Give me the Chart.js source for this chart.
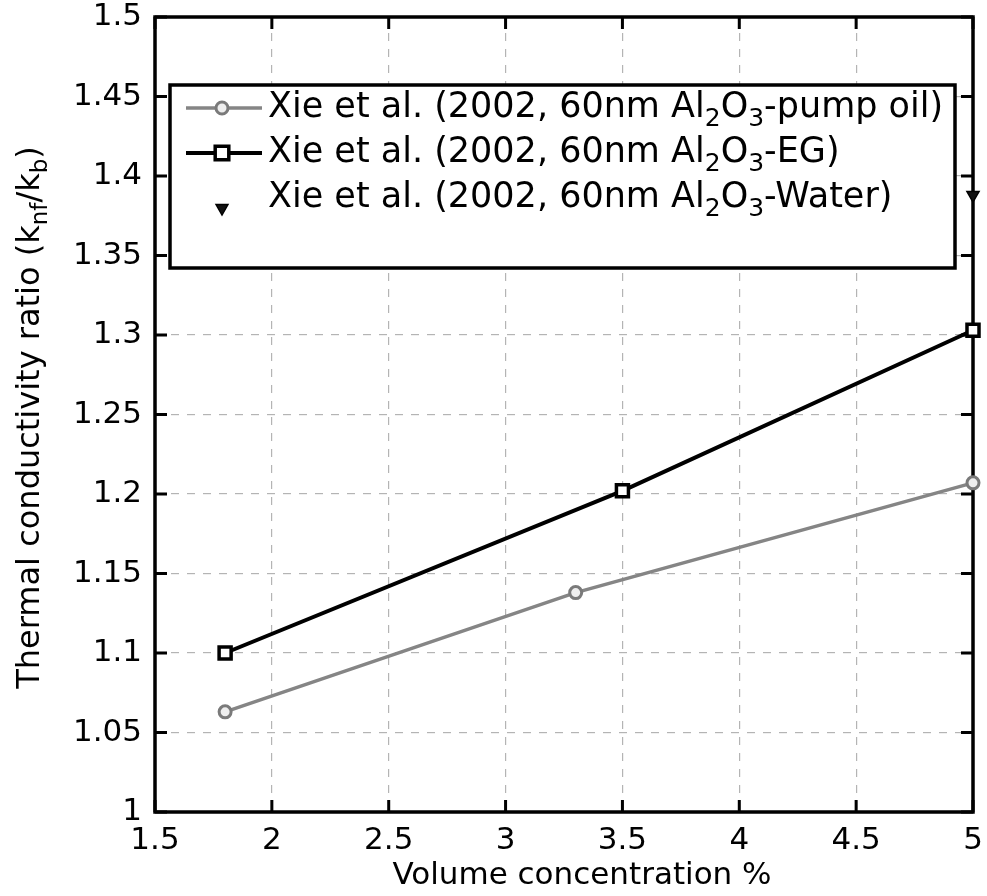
<!DOCTYPE html>
<html>
<head>
<meta charset="utf-8">
<title>Thermal conductivity ratio</title>
<script src="https://cdn.jsdelivr.net/npm/chart.js@4.4.0/dist/chart.umd.min.js"></script>
<style>
  html, body { margin: 0; padding: 0; background: #fff; }
  #wrap { width: 987px; height: 896px; }
</style>
</head>
<body>
<div id="wrap"><canvas id="ratioChart"></canvas></div>
<script>
// volume concentration (%) and k_nf/k_b for each fluid
const pumpOilX = [1.8, 3.3, 5.0];
const pumpOilY = [1.063, 1.138, 1.207];
const egX = [1.8, 3.5, 5.0];
const egY = [1.100, 1.202, 1.303];
const waterX = [5.0];
const waterY = [1.388];

const seriesLabels = [
  'Xie et al. (2002, 60nm Al_{2}O_{3}-pump oil)',
  'Xie et al. (2002, 60nm Al_{2}O_{3}-EG)',
  'Xie et al. (2002, 60nm Al_{2}O_{3}-Water)',
];
const xTitle = 'Volume concentration %';
const yTitle = 'Thermal conductivity ratio (k_{nf}/k_{b})';

const FONT = '"DejaVu Sans", Verdana, sans-serif';

const toPoints = (xs, ys) => xs.map((x, i) => ({ x, y: ys[i] }));

// draws text with _{...} parts as subscripts, returns width
function richText(ctx, text, x, y, size, measureOnly) {
  const parts = text.split(/(_\{[^}]*\})/).filter(Boolean);
  let cx = x;
  for (const p of parts) {
    const sub = p.startsWith('_{');
    const s = sub ? p.slice(2, -1) : p;
    ctx.font = (sub ? Math.round(size * 0.72) : size) + 'px ' + FONT;
    if (!measureOnly) ctx.fillText(s, cx, sub ? y + size * 0.32 : y);
    cx += ctx.measureText(s).width;
  }
  return cx - x;
}

function drawMarker(ctx, ds, x, y) {
  const r = ds.pointRadius;
  ctx.save();
  ctx.lineWidth = ds.pointBorderWidth;
  ctx.strokeStyle = ds.pointBorderColor;
  ctx.fillStyle = ds.pointBackgroundColor;
  ctx.beginPath();
  if (ds.pointStyle === 'circle') {
    ctx.arc(x, y, r, 0, Math.PI * 2);
  } else if (ds.pointStyle === 'rect') {
    const h = r * 0.8;
    ctx.rect(x - h, y - h, 2 * h, 2 * h);
  } else {
    ctx.moveTo(x - r * 0.85, y - r * 0.5);
    ctx.lineTo(x + r * 0.85, y - r * 0.5);
    ctx.lineTo(x, y + r);
    ctx.closePath();
  }
  ctx.fill();
  ctx.stroke();
  ctx.restore();
}

const framePlugin = {
  id: 'frame',
  beforeDatasetsDraw(chart) {
    const { ctx, chartArea: a, scales } = chart;
    ctx.save();
    ctx.strokeStyle = '#000';
    ctx.lineWidth = 3.5;
    ctx.strokeRect(a.left, a.top, a.right - a.left, a.bottom - a.top);
    // inward ticks on all four sides
    const len = 12;
    ctx.beginPath();
    scales.y.ticks.forEach(t => {
      const py = scales.y.getPixelForValue(t.value);
      ctx.moveTo(a.left, py); ctx.lineTo(a.left + len, py);
      ctx.moveTo(a.right, py); ctx.lineTo(a.right - len, py);
    });
    scales.x.ticks.forEach(t => {
      const px = scales.x.getPixelForValue(t.value);
      ctx.moveTo(px, a.bottom); ctx.lineTo(px, a.bottom - len);
      ctx.moveTo(px, a.top); ctx.lineTo(px, a.top + len);
    });
    ctx.lineWidth = 3;
    ctx.stroke();
    ctx.restore();
  },
  afterDatasetsDraw(chart) {
    const { ctx, chartArea: a } = chart;
    ctx.save();
    ctx.fillStyle = '#000';
    ctx.textBaseline = 'middle';
    ctx.textAlign = 'left';

    // x title
    const wx = richText(ctx, xTitle, 0, 0, 31, true);
    richText(ctx, xTitle, 582 - wx / 2, 876, 31);

    // y title, rotated
    ctx.save();
    ctx.translate(31, (a.top + a.bottom) / 2 + 3);
    ctx.rotate(-Math.PI / 2);
    const wy = richText(ctx, yTitle, 0, 0, 32, true);
    richText(ctx, yTitle, -wy / 2, 0, 32);
    ctx.restore();

    // legend box
    const bx = 170, by = 85, bw = 785, bh = 183;
    ctx.fillStyle = '#fff';
    ctx.fillRect(bx, by, bw, bh);
    ctx.lineWidth = 3.5;
    ctx.strokeStyle = '#000';
    ctx.strokeRect(bx, by, bw, bh);
    chart.data.datasets.forEach((ds, i) => {
      const ry = by + 23 + i * 45;
      if (ds.showLine !== false) {
        ctx.beginPath();
        ctx.lineWidth = ds.borderWidth;
        ctx.strokeStyle = ds.borderColor;
        ctx.moveTo(bx + 16, ry);
        ctx.lineTo(bx + 92, ry);
        ctx.stroke();
      }
      drawMarker(ctx, ds, bx + 52, ry + (ds.pointStyle === 'triangle' ? 10 : 0));
      ctx.fillStyle = '#000';
      richText(ctx, ds.label, bx + 98, ry, 35);
    });
    ctx.restore();
  },
};

const gridColor = (edgeMin, edgeMax) => c =>
  (c.tick && (Math.abs(c.tick.value - edgeMin) < 1e-6 || Math.abs(c.tick.value - edgeMax) < 1e-6))
    ? 'rgba(0,0,0,0)' : '#b4b4b4';

new Chart(document.getElementById('ratioChart'), {
  type: 'scatter',
  data: {
    datasets: [
      {
        label: seriesLabels[0],
        data: toPoints(pumpOilX, pumpOilY),
        showLine: true,
        borderColor: '#858585',
        borderWidth: 3.5,
        pointStyle: 'circle',
        pointRadius: 6,
        pointBorderWidth: 3,
        pointBorderColor: '#7a7a7a',
        pointBackgroundColor: '#eeeeee',
        clip: false,
      },
      {
        label: seriesLabels[1],
        data: toPoints(egX, egY),
        showLine: true,
        borderColor: '#000',
        borderWidth: 4,
        pointStyle: 'rect',
        pointRadius: 8.5,
        pointBorderWidth: 3.5,
        pointBorderColor: '#000',
        pointBackgroundColor: '#fff',
        clip: false,
      },
      {
        label: seriesLabels[2],
        data: toPoints(waterX, waterY),
        showLine: false,
        pointStyle: 'triangle',
        rotation: 180,
        pointRadius: 7,
        pointBorderWidth: 1.5,
        pointBorderColor: '#000',
        pointBackgroundColor: '#111',
        clip: false,
      },
    ],
  },
  options: {
    responsive: true,
    maintainAspectRatio: false,
    animation: false,
    layout: { padding: { top: 17, right: 14, left: 0, bottom: 0 } },
    plugins: {
      legend: { display: false },
      tooltip: { enabled: false },
    },
    scales: {
      x: {
        type: 'linear',
        min: 1.5,
        max: 5,
        ticks: {
          stepSize: 0.5,
          color: '#000',
          padding: 10,
          font: { family: FONT, size: 31 },
          callback: v => String(+v.toFixed(2)),
        },
        grid: { color: gridColor(1.5, 5), lineWidth: 1.2, drawTicks: false },
        border: { display: false, dash: [8, 8] },
        afterFit: s => { s.height = 84; s.paddingLeft = 0; s.paddingRight = 0; },
      },
      y: {
        type: 'linear',
        min: 1,
        max: 1.5,
        ticks: {
          stepSize: 0.05,
          color: '#000',
          padding: 13,
          font: { family: FONT, size: 31 },
          callback: v => String(+v.toFixed(2)),
        },
        grid: { color: gridColor(1, 1.5), lineWidth: 1.2, drawTicks: false },
        border: { display: false, dash: [8, 8] },
        afterFit: s => { s.width = 155; s.paddingTop = 0; s.paddingBottom = 0; },
      },
    },
  },
  plugins: [framePlugin],
});
</script>
</body>
</html>
